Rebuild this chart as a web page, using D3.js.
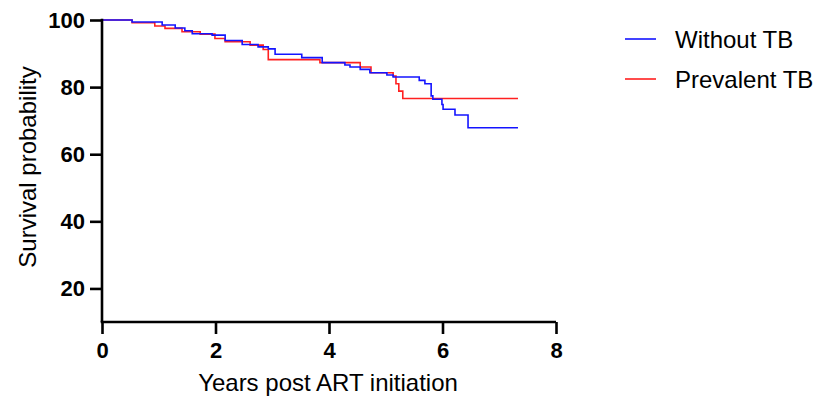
<!DOCTYPE html>
<html>
<head>
<meta charset="utf-8">
<script src="https://cdn.jsdelivr.net/npm/d3@7/dist/d3.min.js"></script>
<style>
  html, body { margin: 0; padding: 0; background: #fff; }
  svg { display: block; }
  text { font-family: "Liberation Sans", Arial, Helvetica, sans-serif; }
</style>
</head>
<body>
<svg id="chart" width="820" height="402"></svg>
<script>
// ---- Data ----
const seriesNames = ["Without TB", "Prevalent TB"];
const seriesColors = ["#1414ff", "#ff2020"];

// Without TB: step times (years) and survival (%) after each step
const withoutTimes = [0, 0.53, 1.06, 1.29, 1.46, 1.59, 1.94, 2.17, 2.47, 2.75, 2.93, 3.05, 3.52, 3.88, 4.28, 4.37, 4.55, 4.72, 5.02, 5.13, 5.59, 5.69, 5.80, 5.83, 5.99, 6.01, 6.22, 6.45, 7.33];
const withoutSurv  = [100, 99.4, 98.5, 97.6, 96.8, 95.9, 95.5, 93.9, 92.7, 92.0, 91.4, 89.8, 88.8, 87.3, 86.6, 86.0, 85.3, 84.3, 83.6, 83.0, 82.0, 81.0, 77.4, 76.4, 74.8, 73.4, 71.7, 67.9, 67.9];

// Prevalent TB
const prevTimes = [0, 0.53, 0.93, 1.11, 1.41, 1.73, 1.99, 2.17, 2.61, 2.84, 2.93, 3.84, 4.55, 4.74, 5.13, 5.18, 5.23, 5.30, 7.33];
const prevSurv  = [100, 99.2, 98.2, 97.5, 96.5, 95.8, 94.5, 93.5, 92.5, 91.2, 88.2, 87.3, 86.0, 84.3, 83.3, 81.0, 78.8, 76.6, 76.6];

const xTicks = [0, 2, 4, 6, 8];
const yTicks = [20, 40, 60, 80, 100];
const xTitle = "Years post ART initiation";
const yTitle = "Survival probability";

// ---- Layout ----
const svg = d3.select("#chart");
const x = d3.scaleLinear().domain([0, 8]).range([102, 556]);
const y = d3.scaleLinear().domain([10, 100]).range([322, 20]);

const series = [
  { name: seriesNames[0], color: seriesColors[0], pts: withoutTimes.map((t, i) => [t, withoutSurv[i]]) },
  { name: seriesNames[1], color: seriesColors[1], pts: prevTimes.map((t, i) => [t, prevSurv[i]]) }
];

const line = d3.line().x(d => x(d[0])).y(d => y(d[1])).curve(d3.curveStepAfter);

// draw red first, blue on top
[series[1], series[0]].forEach(s => {
  svg.append("path")
    .attr("d", line(s.pts))
    .attr("fill", "none")
    .attr("stroke", s.color)
    .attr("stroke-width", 1.6);
});

// Axes
const xAxis = d3.axisBottom(x).tickValues(xTicks).tickSize(12).tickSizeOuter(0).tickPadding(8);
const yAxis = d3.axisLeft(y).tickValues(yTicks).tickSize(12).tickSizeOuter(0).tickPadding(5);

const gx = svg.append("g").attr("transform", `translate(0,${y(10)})`).call(xAxis);
const gy = svg.append("g").attr("transform", `translate(${x(0)},0)`).call(yAxis);

[gx, gy].forEach(g => {
  g.select(".domain").attr("stroke", "#000").attr("stroke-width", 2.6);
  g.selectAll(".tick line").attr("stroke", "#000").attr("stroke-width", 2.6);
  g.selectAll(".tick text")
    .attr("fill", "#000")
    .style("font-family", "'Liberation Sans', Arial, sans-serif")
    .style("font-size", "22px")
    .style("font-weight", "bold");
});
gx.select(".domain").attr("d", `M${x(0) - 1.3},0H${x(8)}`);
gy.select(".domain").attr("d", `M0,${y(10)}V${y(100) - 1.3}`);

// Axis titles
svg.append("text")
  .attr("x", (x(0) + x(8)) / 2 - 1)
  .attr("y", 391)
  .attr("text-anchor", "middle")
  .style("font-size", "24px")
  .attr("fill", "#000")
  .text(xTitle);

svg.append("text")
  .attr("transform", `translate(36,${(y(10) + y(100)) / 2 - 4}) rotate(-90)`)
  .attr("text-anchor", "middle")
  .style("font-size", "24px")
  .attr("fill", "#000")
  .text(yTitle);

// Legend
const legend = svg.append("g");
series.forEach((s, i) => {
  const ly = 39 + i * 40;
  legend.append("line")
    .attr("x1", 625).attr("x2", 656)
    .attr("y1", ly).attr("y2", ly)
    .attr("stroke", s.color).attr("stroke-width", 1.6);
  legend.append("text")
    .attr("x", 675).attr("y", ly)
    .attr("dy", "0.36em")
    .style("font-size", "24px")
    .attr("fill", "#000")
    .text(s.name);
});
</script>
</body>
</html>
